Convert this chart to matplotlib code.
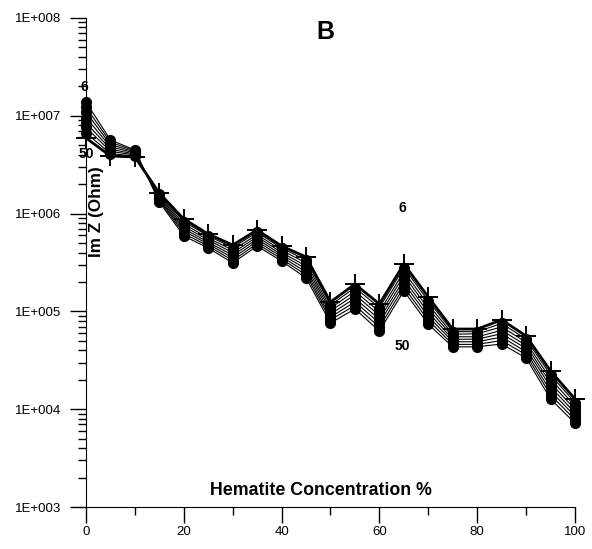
import matplotlib
matplotlib.use('Agg')
import math
import matplotlib.pyplot as plt
from matplotlib.ticker import FixedLocator, FuncFormatter, NullFormatter, LogLocator

plt.rcParams['font.family'] = ['Liberation Sans', 'DejaVu Sans']

# hematite concentration (%)
conc = [0, 5, 10, 15, 20, 25, 30, 35, 40, 45, 50, 55, 60, 65, 70, 75, 80, 85, 90, 95, 100]

# Im Z (Ohm), one list per frequency curve
f6 = [1.38e7, 5.66e6, 4.47e6, 1.31e6, 5.9e5, 4.45e5, 3.13e5, 4.66e5, 3.27e5, 2.2e5, 7.6e4,
      1.06e5, 6.3e4, 1.62e5, 7.4e4, 4.33e4, 4.35e4, 4.64e4, 3.34e4, 1.27e4, 7.2e3]
f8 = [1.22e7, 5.37e6, 4.37e6, 1.36e6, 6.25e5, 4.66e5, 3.32e5, 4.92e5, 3.44e5, 2.36e5, 8.2e4,
      1.15e5, 6.9e4, 1.77e5, 8.1e4, 4.6e4, 4.6e4, 5.04e4, 3.6e4, 1.4e4, 7.8e3]
f10 = [1.09e7, 5.08e6, 4.27e6, 1.4e6, 6.62e5, 4.88e5, 3.53e5, 5.2e5, 3.62e5, 2.53e5, 8.75e4,
       1.25e5, 7.6e4, 1.94e5, 8.9e4, 4.89e4, 4.9e4, 5.46e4, 3.87e4, 1.53e4, 8.5e3]
f15 = [9.6e6, 4.82e6, 4.17e6, 1.44e6, 7.0e5, 5.1e5, 3.75e5, 5.48e5, 3.81e5, 2.72e5, 9.4e4,
       1.36e5, 8.3e4, 2.12e5, 9.75e4, 5.19e4, 5.2e4, 5.92e4, 4.17e4, 1.69e4, 9.2e3]
f20 = [8.5e6, 4.56e6, 4.06e6, 1.49e6, 7.4e5, 5.37e5, 3.98e5, 5.78e5, 4.01e5, 2.91e5, 1.01e5,
       1.48e5, 9.1e4, 2.33e5, 1.07e5, 5.51e4, 5.5e4, 6.41e4, 4.49e4, 1.85e4, 9.98e3]
f30 = [7.6e6, 4.33e6, 3.97e6, 1.53e6, 7.85e5, 5.62e5, 4.23e5, 6.1e5, 4.22e5, 3.13e5, 1.08e5,
       1.61e5, 9.9e4, 2.55e5, 1.17e5, 5.85e4, 5.9e4, 6.95e4, 4.83e4, 2.04e4, 1.08e4]
f40 = [6.7e6, 4.1e6, 3.88e6, 1.58e6, 8.3e5, 5.9e5, 4.5e5, 6.44e5, 4.44e5, 3.35e5, 1.16e5,
       1.75e5, 1.09e5, 2.79e5, 1.28e5, 6.22e4, 6.2e4, 7.53e4, 5.2e4, 2.24e4, 1.17e4]
f50 = [5.93e6, 3.88e6, 3.79e6, 1.62e6, 8.8e5, 6.18e5, 4.77e5, 6.8e5, 4.66e5, 3.6e5, 1.25e5,
       1.9e5, 1.19e5, 3.05e5, 1.4e5, 6.6e4, 6.6e4, 8.2e4, 5.6e4, 2.46e4, 1.27e4]

curves = [f6, f8, f10, f15, f20, f30, f40]

fig = plt.figure(figsize=(5.92, 5.49), dpi=100)
ax = fig.add_axes([86 / 592, 1 - 507 / 549, 489 / 592, 489 / 549])

for ys in curves:
    ax.plot(conc, ys, color='black', lw=0.8, marker='o', ms=7,
            mfc='black', mec='black', clip_on=False, zorder=3)
ax.plot(conc, f50, color='black', lw=2, marker='+', ms=14, mew=1.4,
        clip_on=False, zorder=4)

ax.set_yscale('log')
ax.set_xlim(0, 100)
ax.set_ylim(1e3, 1e8)

ax.spines['top'].set_visible(False)
ax.spines['right'].set_visible(False)

ax.xaxis.set_major_locator(FixedLocator([0, 20, 40, 60, 80, 100]))
ax.xaxis.set_minor_locator(FixedLocator([10, 30, 50, 70, 90]))
ax.yaxis.set_major_locator(LogLocator(base=10, numticks=10))
ax.yaxis.set_minor_locator(LogLocator(base=10, subs=range(2, 10), numticks=20))
ax.yaxis.set_major_formatter(FuncFormatter(lambda v, p: '1E+%03d' % round(math.log10(v))))
ax.yaxis.set_minor_formatter(NullFormatter())

ax.tick_params(axis='x', which='major', direction='out', length=11.5, width=1, pad=2, labelsize=9.5)
ax.tick_params(axis='x', which='minor', direction='out', length=5.8, width=1)
ax.tick_params(axis='y', which='major', direction='out', length=11.5, width=1, pad=6, labelsize=9.5)
ax.tick_params(axis='y', which='minor', direction='out', length=6, width=1)

# labels sit inside the plot area
ax.text(0.48, 0.033, 'Hematite Concentration %', transform=ax.transAxes,
        ha='center', va='center', fontsize=12.8, fontweight='bold')
ax.text(0.022, 0.605, 'Im Z (Ohm)', transform=ax.transAxes, rotation=90,
        ha='center', va='center', fontsize=12.3, fontweight='bold')
fig.text(325 / 592, 1 - 32 / 549, 'B', ha='center', va='center',
         fontsize=18, fontweight='bold')

ax.text(-0.4, 1.97e7, '6', ha='center', va='center', fontsize=10, fontweight='bold')
ax.text(0, 4.1e6, '50', ha='center', va='center', fontsize=10, fontweight='bold')
ax.text(64.6, 1.14e6, '6', ha='center', va='center', fontsize=10, fontweight='bold')
ax.text(64.6, 4.4e4, '50', ha='center', va='center', fontsize=10, fontweight='bold')

fig.savefig('out.png', dpi=100)
